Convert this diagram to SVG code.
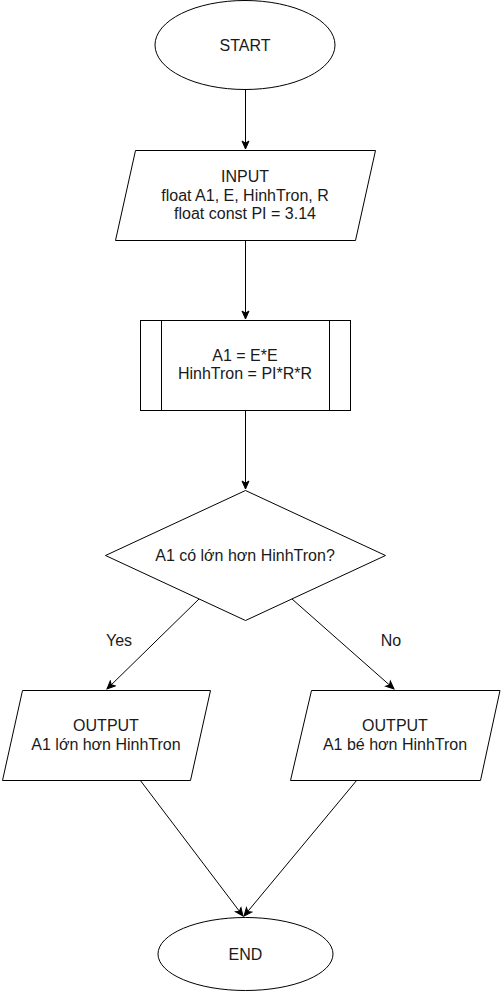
<svg xmlns="http://www.w3.org/2000/svg" width="501" height="991" viewBox="0 0 501 991">
<style>
.s{fill:#fff;stroke:#000;stroke-width:1}
.t{font-family:"Liberation Sans",Arial,sans-serif;font-size:16px;fill:#1a1a1a;text-anchor:middle}
.c{fill:none;stroke:#000;stroke-width:1}
</style>
<defs>
<marker id="a" markerUnits="userSpaceOnUse" markerWidth="10" markerHeight="10" viewBox="0 0 10 10" refX="9" refY="5" orient="auto">
<path d="M1,1.5 L9,5 L1,8.5 L3,5 Z" fill="#000" stroke="#000" stroke-width="1"/>
</marker>
</defs>
<g id="connectors">
<path class="c" d="M245.5,90 L245.5,149" marker-end="url(#a)"/>
<path class="c" d="M245.5,240 L245.5,319" marker-end="url(#a)"/>
<path class="c" d="M245.5,410 L245.5,489" marker-end="url(#a)"/>
<path class="c" d="M199,599 L107,689" marker-end="url(#a)"/>
<path class="c" d="M292,599 L394,689" marker-end="url(#a)"/>
<path class="c" d="M140,780 L243,916" marker-end="url(#a)"/>
<path class="c" d="M357,780 L244,916" marker-end="url(#a)"/>
<text class="t" x="119" y="646">Yes</text>
<text class="t" x="391" y="646">No</text>
</g>
<g id="start">
<ellipse class="s" cx="245" cy="45" rx="90" ry="44.5"/>
<text class="t" x="245" y="51">START</text>
</g>
<g id="input">
<path class="s" d="M135.5,150.5 L375.5,150.5 L355.5,240.5 L115.5,240.5 Z"/>
<text class="t" x="245" y="182">INPUT</text>
<text class="t" x="245" y="200.5">float A1, E, HinhTron, R</text>
<text class="t" x="245" y="219"> float const PI = 3.14</text>
</g>
<g id="process">
<rect class="s" x="140.5" y="320.5" width="210" height="90"/>
<path class="c" d="M161.5,320.5 L161.5,410.5 M329.5,320.5 L329.5,410.5"/>
<text class="t" x="245" y="360.5">A1 = E*E</text>
<text class="t" x="245" y="379">HinhTron = PI*R*R</text>
</g>
<g id="decision">
<path class="s" d="M245.5,490.5 L385.5,555.5 L245.5,620.5 L105.5,555.5 Z"/>
<text class="t" x="245" y="561">A1 có lớn hơn HinhTron?</text>
</g>
<g id="out-yes">
<path class="s" d="M22.5,690.5 L210.5,690.5 L190.5,780.5 L2.5,780.5 Z"/>
<text class="t" x="106" y="731">OUTPUT</text>
<text class="t" x="106" y="750">A1 lớn hơn HinhTron</text>
</g>
<g id="out-no">
<path class="s" d="M311.5,690.5 L500,690.5 L480.5,780.5 L290.5,780.5 Z"/>
<text class="t" x="395" y="731">OUTPUT</text>
<text class="t" x="395" y="750">A1 bé hơn HinhTron</text>
</g>
<g id="end">
<ellipse class="s" cx="245.5" cy="954" rx="87.5" ry="36.5"/>
<text class="t" x="245.5" y="960">END</text>
</g>
</svg>
